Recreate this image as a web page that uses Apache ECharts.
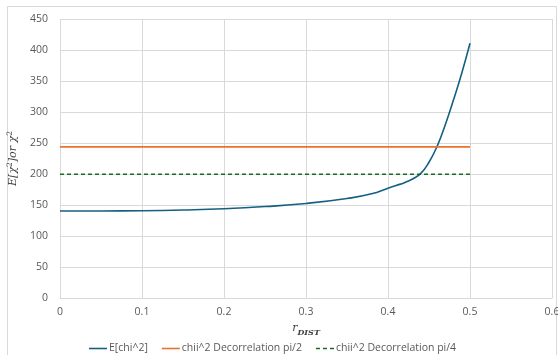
<!DOCTYPE html>
<html><head><meta charset="utf-8">
<script src="https://cdn.jsdelivr.net/npm/echarts@6/dist/echarts.min.js"></script>
<style>html,body{margin:0;padding:0;background:#fff}#c{width:558px;height:355px}</style>
</head><body><div id="c"></div>
<script>
var xVals = [0, 0.05, 0.1, 0.15, 0.2, 0.25, 0.3, 0.35, 0.38, 0.4, 0.41, 0.42, 0.43, 0.44, 0.45, 0.46, 0.47, 0.48, 0.49, 0.5];
var eChi2 = [140.3, 140.4, 140.8, 142, 144, 147.5, 152.5, 160.5, 168, 177, 181.5, 186, 192, 201, 219, 245, 280, 320, 363, 411];
var decorrPi2 = 243.8;
var decorrPi4 = 199.7;
var lineRange = [0, 0.5];
var seriesNames = ['E[chi^2]', 'chii^2 Decorrelation pi/2', '---chii^2 Decorrelation pi/4'];
var yTicks = [0, 50, 100, 150, 200, 250, 300, 350, 400, 450];
var xTicks = [0, 0.1, 0.2, 0.3, 0.4, 0.5, 0.6];

var chart = echarts.init(document.getElementById('c'));
var font = 'Open Sans';
var solidIcon = 'path://M0,0h18v1.6h-18z';
var dashIcon = 'path://M0,0h4v1.6h-4z M7,0h4v1.6h-4z M14,0h4v1.6h-4z';
chart.setOption({
  animation: false,
  graphic: [{type:'rect', shape:{x:7.5,y:6.5,width:549,height:360}, style:{fill:'none', stroke:'#d9d9d9', lineWidth:1}, silent:true}],
  grid: {left: 60, right: 6, top: 19, bottom: 57, outerBoundsMode: 'none', containLabel: false},
  legend: {
    left: 84, top: 338, itemWidth: 18, itemHeight: 2, itemGap: 14,
    textStyle: {color:'#595959', fontSize: 10.5, fontFamily: font, padding:[0,0,0,-3]},
    data: [{name: seriesNames[0], icon: solidIcon}, {name: seriesNames[1], icon: solidIcon}, {name: seriesNames[2], icon: dashIcon}],
    formatter: function(n){ return n.replace(/^---/, ''); }
  },
  xAxis: {
    type: 'value', min: xTicks[0], max: xTicks[xTicks.length-1], interval: 0.1,
    axisLine: {show: true, lineStyle:{color:'#d9d9d9'}},
    axisTick: {show:false},
    splitLine: {show:true, lineStyle:{color:'#d9d9d9'}},
    axisLabel: {color:'#595959', fontSize: 10.5, fontFamily: font, margin: 9},
    name: '{r|r}{s|DIST}', nameLocation: 'middle', nameGap: 24,
    nameTextStyle: {rich: {
      r: {fontFamily:'DejaVu Serif', fontStyle:'italic', fontSize: 11, color:'#404040', verticalAlign:'top'},
      s: {fontFamily:'DejaVu Serif', fontStyle:'italic', fontWeight:'bold', fontSize: 8, color:'#404040', verticalAlign:'bottom', padding:[6,0,0,0]}
    }}
  },
  yAxis: {
    type: 'value', min: yTicks[0], max: yTicks[yTicks.length-1], interval: 50,
    axisLine: {show:false}, axisTick: {show:false},
    splitLine: {show:true, lineStyle:{color:'#d9d9d9'}},
    axisLabel: {color:'#595959', fontSize: 10.5, fontFamily: font, margin: 12},
    name: '{n|E[χ}{p|2}{n|]or χ}{p|2}', nameLocation: 'middle', nameGap: 30,
    nameTextStyle: {rich: {
      n: {fontFamily:'DejaVu Serif', fontStyle:'italic', fontSize: 11, color:'#404040'},
      p: {fontFamily:'DejaVu Serif', fontSize: 7.5, color:'#404040', padding:[0,0,7,0]}
    }}
  },
  series: [
    {name: seriesNames[0], type:'line', smooth: true, symbol:'none',
     data: xVals.map(function(x,i){return [x, eChi2[i]];}),
     lineStyle:{color:'#156082', width:1.6}, itemStyle:{color:'#156082'}},
    {name: seriesNames[1], type:'line', symbol:'none',
     data: lineRange.map(function(x){return [x, decorrPi2];}),
     lineStyle:{color:'#E97132', width:1.6}, itemStyle:{color:'#E97132'}},
    {name: seriesNames[2], type:'line', symbol:'none',
     data: lineRange.map(function(x){return [x, decorrPi4];}),
     lineStyle:{color:'#196B24', width:1.6, type:[4,3]}, itemStyle:{color:'#196B24'}}
  ]
});
</script></body></html>
